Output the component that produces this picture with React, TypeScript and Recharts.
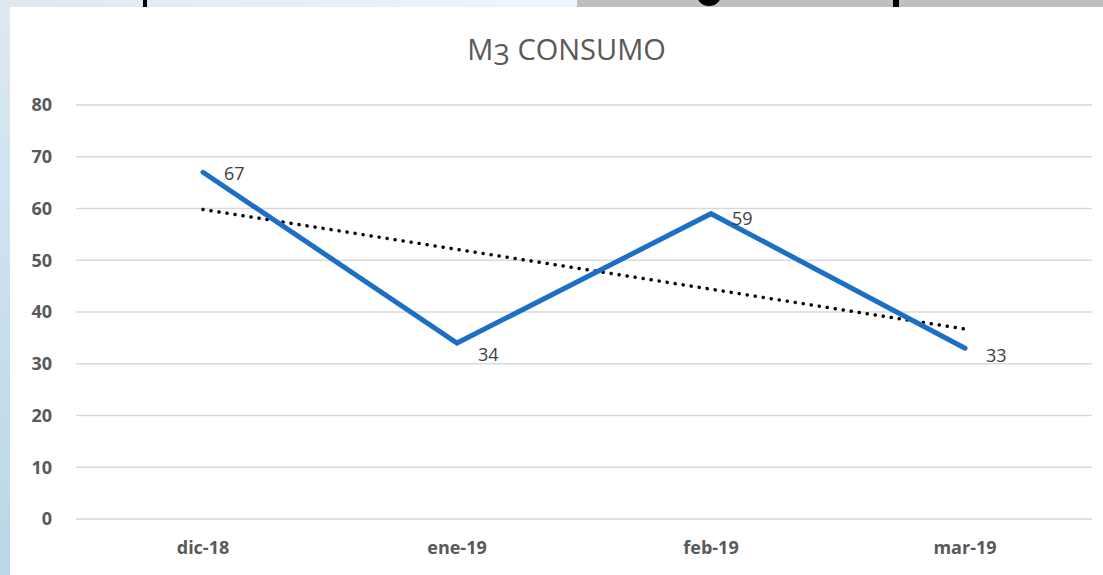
import React from 'react';
import {
  LineChart,
  Line,
  XAxis,
  YAxis,
  CartesianGrid,
  LabelList,
} from 'recharts';

const months = ['dic-18', 'ene-19', 'feb-19', 'mar-19'];
const consumo = [67, 34, 59, 33];
const tendencia = [59.8, 52.1, 44.4, 36.7];
const yTicks = [0, 10, 20, 30, 40, 50, 60, 70, 80];

const data = months.map((m, i) => ({
  month: m,
  consumo: consumo[i],
  tendencia: tendencia[i],
}));

// small per-point tweak so labels sit where excel put them
const LABEL_DY = [3, 13, 7, 9];

const renderLabel = (props: any) => {
  const { x, y, value, index } = props;
  return (
    <text
      x={x + 21}
      y={y + LABEL_DY[index]}
      fill="#404040"
      fontSize={18}
      fontFamily="'Open Sans', sans-serif"
      dominantBaseline="middle"
    >
      {value}
    </text>
  );
};

const tickFont = {
  fill: '#595959',
  fontSize: 18,
  fontWeight: 700,
  fontFamily: "'Open Sans', sans-serif",
};

export default function App() {
  return (
    <div
      style={{
        position: 'absolute',
        left: 0,
        top: 0,
        width: 1103,
        height: 575,
        background: '#fff',
        overflow: 'hidden',
      }}
    >
      <LineChart
        width={1103}
        height={575}
        data={data}
        margin={{ top: 105, right: 11, bottom: 0, left: 0 }}
      >
        <CartesianGrid vertical={false} stroke="#d9d9d9" strokeWidth={1.5} />
        <XAxis
          dataKey="month"
          axisLine={false}
          tickLine={false}
          tickSize={0}
          tickMargin={22}
          height={56}
          padding={{ left: 127, right: 127 }}
          tick={tickFont}
        />
        <YAxis
          domain={[0, 80]}
          ticks={yTicks}
          axisLine={false}
          tickLine={false}
          tickSize={0}
          tickMargin={24}
          width={76}
          tick={tickFont}
        />
        <Line
          dataKey="tendencia"
          stroke="#000"
          strokeWidth={3.5}
          strokeDasharray="0.1 8"
          strokeLinecap="round"
          dot={false}
          activeDot={false}
          isAnimationActive={false}
        />
        <Line
          dataKey="consumo"
          stroke="#1c6fc4"
          strokeWidth={5}
          strokeLinecap="round"
          dot={false}
          activeDot={false}
          isAnimationActive={false}
        >
          <LabelList dataKey="consumo" content={renderLabel} />
        </Line>
      </LineChart>

      <div
        style={{
          position: 'absolute',
          left: 0,
          right: 0,
          top: 29,
          textAlign: 'center',
          paddingLeft: 30,
          fontFamily: "'Open Sans', sans-serif",
          fontSize: 29,
          color: '#595959',
        }}
      >
        M<span style={{ position: 'relative', top: 5 }}>3</span> CONSUMO
      </div>

      {/* slide background peeking around the chart */}
      <div
        style={{
          position: 'absolute',
          left: 0,
          top: 0,
          width: 10,
          height: 575,
          background: 'linear-gradient(#dce9f3, #b9d7e7)',
        }}
      />
      <div
        style={{
          position: 'absolute',
          left: 0,
          top: 0,
          width: 577,
          height: 7,
          background: 'linear-gradient(90deg, #dce9f3, #f0f5f9)',
        }}
      />
      <div
        style={{
          position: 'absolute',
          left: 577,
          top: 0,
          width: 526,
          height: 7,
          background: '#bfbfbf',
        }}
      />
      <div style={{ position: 'absolute', left: 143, top: 0, width: 4, height: 7, background: '#000' }} />
      <div
        style={{
          position: 'absolute',
          left: 697,
          top: -16,
          width: 24,
          height: 22,
          borderRadius: '50%',
          background: '#000',
        }}
      />
      <div style={{ position: 'absolute', left: 893, top: 0, width: 6, height: 7, background: '#000' }} />
    </div>
  );
}
